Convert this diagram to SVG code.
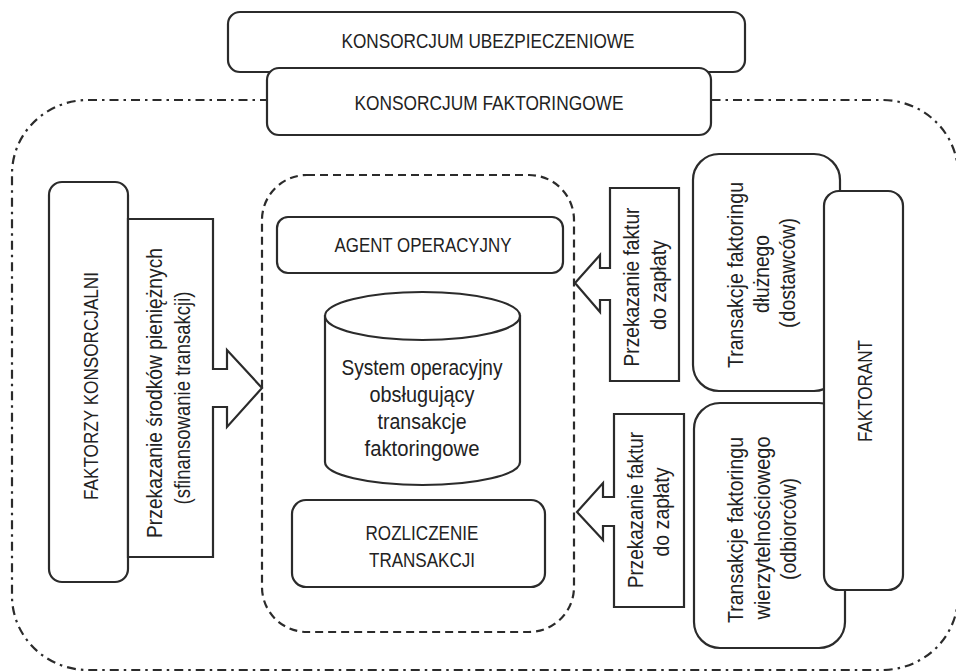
<svg xmlns="http://www.w3.org/2000/svg" width="956" height="671" viewBox="0 0 956 671">
<style>
.box{fill:#fff;stroke:#2b2b2b;stroke-width:2.2}
.arrow{fill:#fff;stroke:#2b2b2b;stroke-width:2.2;stroke-linejoin:miter}
.outer{fill:none;stroke:#2b2b2b;stroke-width:2.2;stroke-dasharray:9 5 2.5 5}
.inner{fill:none;stroke:#2b2b2b;stroke-width:2.2;stroke-dasharray:8 5}
text{font-family:"Liberation Sans",Arial,sans-serif;fill:#222;text-anchor:middle}
.cap{font-size:21px}
.lc{font-size:22px}
</style>
<rect class="outer" x="12" y="100" width="946" height="570" rx="76" ry="74"/>
<g id="konsorcjum-ubezpieczeniowe">
<rect class="box" x="228" y="12" width="517" height="60" rx="12"/>
<text class="cap" x="488" y="48" textLength="293" lengthAdjust="spacingAndGlyphs">KONSORCJUM UBEZPIECZENIOWE</text>
</g>
<g id="konsorcjum-faktoringowe">
<rect class="box" x="267" y="68" width="444" height="67" rx="12"/>
<text class="cap" x="489" y="110" textLength="269" lengthAdjust="spacingAndGlyphs">KONSORCJUM FAKTORINGOWE</text>
</g>
<g id="system-box">
<rect class="inner" x="262" y="175" width="312" height="457" rx="45"/>
</g>
<g id="agent-operacyjny">
<rect class="box" x="277" y="217" width="286" height="56" rx="11"/>
<text x="423" y="252" style="font-size:19.5px" textLength="177" lengthAdjust="spacingAndGlyphs">AGENT OPERACYJNY</text>
</g>
<g id="system-operacyjny">
<path class="box" d="M325,315 L325,462 A97.5,23 0 0 0 520,462 L520,315"/>
<ellipse class="box" cx="422.5" cy="316" rx="97.5" ry="24"/>
<text class="lc" x="422" y="375" textLength="161" lengthAdjust="spacingAndGlyphs">System operacyjny</text>
<text class="lc" x="422" y="402" textLength="105" lengthAdjust="spacingAndGlyphs">obsługujący</text>
<text class="lc" x="422" y="429" textLength="89" lengthAdjust="spacingAndGlyphs">transakcje</text>
<text class="lc" x="422" y="456" textLength="115" lengthAdjust="spacingAndGlyphs">faktoringowe</text>
</g>
<g id="rozliczenie-transakcji">
<rect class="box" x="292" y="500" width="253" height="87" rx="14"/>
<text x="422" y="540" style="font-size:19.5px" textLength="113" lengthAdjust="spacingAndGlyphs">ROZLICZENIE</text>
<text x="422" y="567" style="font-size:19.5px" textLength="106" lengthAdjust="spacingAndGlyphs">TRANSAKCJI</text>
</g>
<g id="faktorzy-konsorcjalni">
<rect class="box" x="49" y="182" width="79" height="400" rx="13"/>
<text transform="translate(98,386) rotate(-90)" x="0" y="0" style="font-size:20.5px" textLength="228" lengthAdjust="spacingAndGlyphs">FAKTORZY KONSORCJALNI</text>
</g>
<g id="transakcje-dluznego">
<rect class="box" x="693" y="154" width="147" height="237" rx="26"/>
<g transform="rotate(-90)">
<text class="lc" x="-275" y="743" textLength="186" lengthAdjust="spacingAndGlyphs">Transakcje faktoringu</text>
<text class="lc" x="-274" y="769" textLength="78" lengthAdjust="spacingAndGlyphs">dłużnego</text>
<text class="lc" x="-273" y="795" textLength="110" lengthAdjust="spacingAndGlyphs">(dostawców)</text>
</g>
</g>
<g id="transakcje-wierzytelnosciowego">
<rect class="box" x="694" y="403" width="151" height="245" rx="26"/>
<g transform="rotate(-90)">
<text class="lc" x="-530" y="743" textLength="186" lengthAdjust="spacingAndGlyphs">Transakcje faktoringu</text>
<text class="lc" x="-528" y="770" textLength="183" lengthAdjust="spacingAndGlyphs">wierzytelnościowego</text>
<text class="lc" x="-529" y="796" textLength="102" lengthAdjust="spacingAndGlyphs">(odbiorców)</text>
</g>
</g>
<g id="faktorant">
<rect class="box" x="824" y="191" width="79" height="399" rx="15"/>
<text transform="translate(872,391) rotate(-90)" x="0" y="0" style="font-size:20.5px" textLength="102" lengthAdjust="spacingAndGlyphs">FAKTORANT</text>
</g>
<g id="connectors">
<g id="arrow-finansowanie">
<polygon class="arrow" points="128,219 213,219 213,369 227,369 227,350 262,388 227,427 227,407 213,407 213,557 128,557"/>
<g transform="rotate(-90)">
<text class="lc" x="-393" y="162" textLength="290" lengthAdjust="spacingAndGlyphs">Przekazanie środków pieniężnych</text>
<text class="lc" x="-398" y="190" textLength="213" lengthAdjust="spacingAndGlyphs">(sfinansowanie transakcji)</text>
</g>
</g>
<g id="arrow-faktury-1">
<polygon class="arrow" points="610,188 679,188 679,381 610,381 610,300 600,300 600,312 575,283 600,255 600,268 610,268"/>
<g transform="rotate(-90)">
<text class="lc" x="-287" y="639" textLength="159" lengthAdjust="spacingAndGlyphs">Przekazanie faktur</text>
<text class="lc" x="-285" y="666" textLength="90" lengthAdjust="spacingAndGlyphs">do zapłaty</text>
</g>
</g>
<g id="arrow-faktury-2">
<polygon class="arrow" points="614,414 684,414 684,607 614,607 614,526 603,526 603,540 577,512 603,483 603,497 614,497"/>
<g transform="rotate(-90)">
<text class="lc" x="-510" y="643" textLength="156" lengthAdjust="spacingAndGlyphs">Przekazanie faktur</text>
<text class="lc" x="-512" y="669" textLength="89" lengthAdjust="spacingAndGlyphs">do zapłaty</text>
</g>
</g>
</g>
</svg>
